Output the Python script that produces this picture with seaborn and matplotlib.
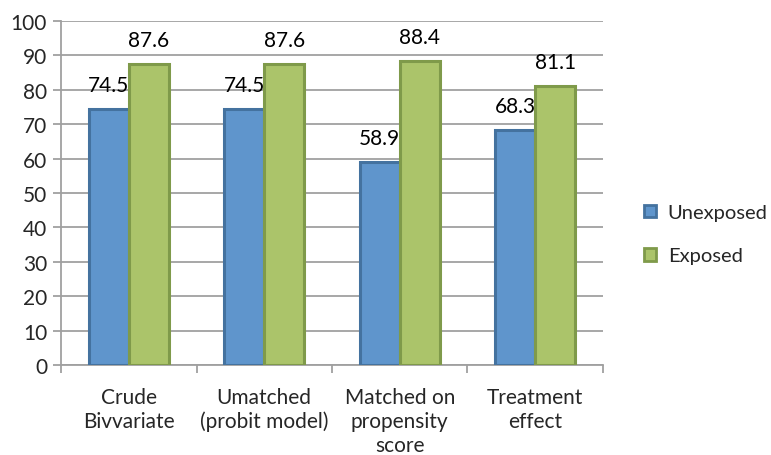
import pandas as pd
import numpy as np
import matplotlib.pyplot as plt
import seaborn as sns
from matplotlib.ticker import FixedLocator

categories = ["Crude\nBivvariate", "Umatched\n(probit model)", "Matched on\npropensity\nscore", "Treatment\neffect"]
unexposed = [74.5, 74.5, 58.9, 68.3]
exposed = [87.6, 87.6, 88.4, 81.1]
groups = ["Unexposed", "Exposed"]

df = pd.DataFrame({
    "cat": categories * 2,
    "val": unexposed + exposed,
    "grp": [groups[0]] * 4 + [groups[1]] * 4,
})

fills = ["#5F95CC", "#ABC46A"]
edges = ["#44729F", "#7F9A4A"]

sns.set_style("white")
plt.rcParams["font.family"] = ["Lato", "DejaVu Sans"]

fig = plt.figure(figsize=(7.71, 4.56), dpi=100)
ax = fig.add_axes([61 / 771, 1 - 366 / 456, 542 / 771, 344 / 456])

sns.barplot(data=df, x="cat", y="val", hue="grp", palette=fills, width=0.59,
            saturation=1, ax=ax, zorder=3)

for cont, ec in zip(ax.containers, edges):
    for p in cont:
        p.set_edgecolor(ec)
        p.set_linewidth(2.2)
    ax.bar_label(cont, labels=[f"{v:.1f}" for v in cont.datavalues],
                 padding=10, fontsize=15, color="black")

ax.set_ylim(0, 100)
ax.set_xlim(-0.5, 3.5)
ax.set_yticks(np.arange(0, 101, 10))
ax.yaxis.grid(True, color="#A0A0A0", lw=1.3, zorder=0)
ax.set_axisbelow(True)

for s in ["top", "right"]:
    ax.spines[s].set_visible(False)
for s in ["left", "bottom"]:
    ax.spines[s].set_color("#A0A0A0")
    ax.spines[s].set_linewidth(1.3)

ax.tick_params(axis="y", which="major", left=True, length=6, width=1.3,
               color="#A0A0A0", labelsize=15, pad=4)
ax.tick_params(axis="x", which="major", bottom=False, labelsize=15, pad=12)
ax.xaxis.set_minor_locator(FixedLocator([-0.5, 0.5, 1.5, 2.5, 3.5]))
ax.tick_params(axis="x", which="minor", bottom=True, length=6, width=1.3,
               color="#A0A0A0")
for lbl in ax.get_xticklabels():
    lbl.set_horizontalalignment("center")
    lbl.set_verticalalignment("top")
    lbl.set_linespacing(1.25)

ax.set_xlabel("")
ax.set_ylabel("")

handles, labels = ax.get_legend_handles_labels()
for h, ec in zip(handles, edges):
    h.set_edgecolor(ec)
    h.set_linewidth(2)
ax.legend(handles, labels, loc="center left", bbox_to_anchor=(1.06, 0.38),
          frameon=False, fontsize=14.5, handlelength=0.6, handleheight=0.6,
          labelspacing=1.3, handletextpad=0.6, borderaxespad=0)

fig.savefig("out.png", dpi=100)
